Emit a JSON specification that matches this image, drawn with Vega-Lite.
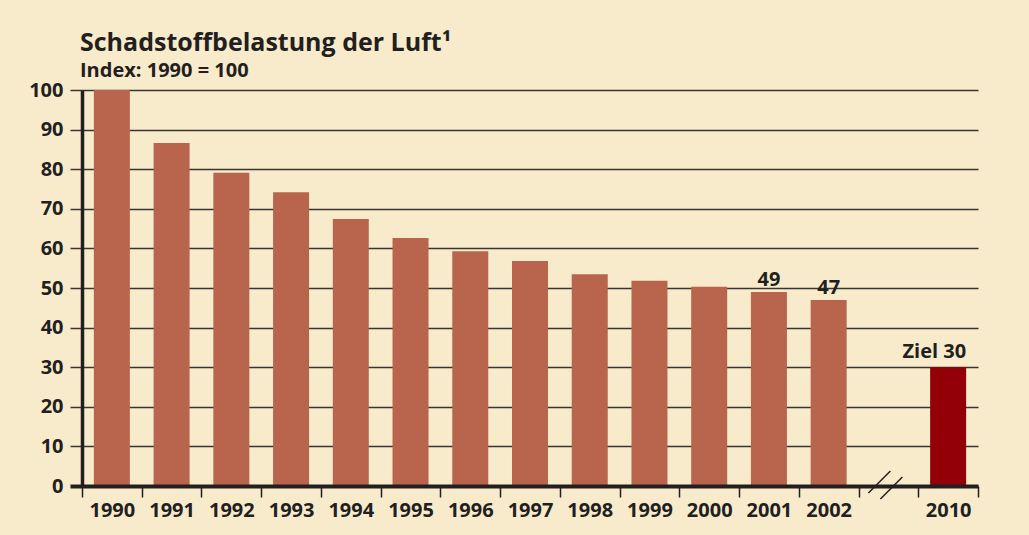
{
  "$schema": "https://vega.github.io/schema/vega-lite/v6.json",
  "width": 896,
  "height": 396,
  "autosize": {"type": "none"},
  "padding": {"left": 82, "top": 90, "right": 51, "bottom": 49},
  "background": "#f7ebcb",
  "config": {
    "view": {"stroke": null},
    "font": "Open Sans",
    "text": {"font": "Open Sans"}
  },
  "title": {
    "text": "Schadstoffbelastung der Luft¹",
    "subtitle": "Index: 1990 = 100",
    "anchor": "start",
    "frame": "group",
    "dx": -2,
    "offset": -1,
    "font": "Open Sans",
    "fontSize": 25,
    "fontWeight": "bold",
    "color": "#231f20",
    "subtitleFont": "Open Sans",
    "subtitleFontSize": 20,
    "subtitleFontWeight": "bold",
    "subtitleColor": "#231f20",
    "subtitlePadding": 5
  },
  "data": {
    "values": [
      {"year": "1990", "value": 100, "label": null},
      {"year": "1991", "value": 86.6, "label": null},
      {"year": "1992", "value": 79.1, "label": null},
      {"year": "1993", "value": 74.2, "label": null},
      {"year": "1994", "value": 67.4, "label": null},
      {"year": "1995", "value": 62.6, "label": null},
      {"year": "1996", "value": 59.3, "label": null},
      {"year": "1997", "value": 56.8, "label": null},
      {"year": "1998", "value": 53.5, "label": null},
      {"year": "1999", "value": 51.8, "label": null},
      {"year": "2000", "value": 50.3, "label": null},
      {"year": "2001", "value": 49, "label": "49"},
      {"year": "2002", "value": 47, "label": "47"},
      {"year": "2010", "value": 30, "label": "Ziel 30"}
    ]
  },
  "encoding": {
    "x": {
      "field": "year",
      "type": "nominal",
      "sort": null,
      "scale": {
        "domain": ["1990","1991","1992","1993","1994","1995","1996","1997","1998","1999","2000","2001","2002","gap","2010"],
        "paddingInner": 0,
        "paddingOuter": 0
      },
      "axis": {
        "title": null,
        "labelAngle": 0,
        "labelExpr": "datum.value == 'gap' ? '' : datum.value",
        "labelFont": "Open Sans",
        "labelFontSize": 20,
        "labelFontWeight": "bold",
        "labelColor": "#231f20",
        "labelPadding": 3,
        "tickBand": "extent",
        "tickSize": 11,
        "tickWidth": 1.5,
        "tickColor": "#231f20",
        "domainColor": "#231f20",
        "domainWidth": 4,
        "zindex": 1
      }
    },
    "y": {
      "field": "value",
      "type": "quantitative",
      "scale": {"domain": [0, 100], "nice": false},
      "axis": {
        "title": null,
        "values": [0,10,20,30,40,50,60,70,80,90,100],
        "labelFont": "Open Sans",
        "labelFontSize": 20,
        "labelFontWeight": "bold",
        "labelColor": "#231f20",
        "labelPadding": 7,
        "tickSize": 12,
        "tickWidth": {"condition": {"test": "datum.value === 0", "value": 4}, "value": 1.5},
        "tickColor": {"condition": {"test": "datum.value === 0", "value": "#231f20"}, "value": "#3a3530"},
        "grid": true,
        "gridColor": "#3a3530",
        "gridWidth": 1.5,
        "domainColor": "#231f20",
        "domainWidth": 3.5
      }
    }
  },
  "layer": [
    {
      "mark": {"type": "bar", "width": 36},
      "encoding": {
        "color": {
          "condition": {"test": "datum.year == '2010'", "value": "#940008"},
          "value": "#b9654d"
        }
      }
    },
    {
      "transform": [{"filter": "datum.label != null && datum.year != '2010'"}],
      "mark": {"type": "text", "font": "Open Sans", "fontSize": 20, "fontWeight": "bold", "color": "#231f20", "align": "center", "baseline": "alphabetic", "dy": -6},
      "encoding": {"text": {"field": "label"}}
    },
    {
      "transform": [{"filter": "datum.year == '2010'"}],
      "mark": {"type": "text", "font": "Open Sans", "fontSize": 20, "fontWeight": "bold", "color": "#231f20", "align": "right", "baseline": "alphabetic", "dx": 18, "dy": -9},
      "encoding": {"text": {"field": "label"}}
    },
    {
      "data": {"values": [{"year": "gap", "base": 0}]},
      "mark": {"type": "rule", "color": "#231f20", "strokeWidth": 1.5, "xOffset": -20, "yOffset": 7, "x2Offset": 2, "y2Offset": -15},
      "encoding": {"x2": {"field": "year"}, "y": {"field": "base", "type": "quantitative"}, "y2": {"field": "base"}}
    },
    {
      "data": {"values": [{"year": "gap", "base": 0}]},
      "mark": {"type": "rule", "color": "#231f20", "strokeWidth": 1.5, "xOffset": -8, "yOffset": 13, "x2Offset": 14, "y2Offset": -9},
      "encoding": {"x2": {"field": "year"}, "y": {"field": "base", "type": "quantitative"}, "y2": {"field": "base"}}
    }
  ]
}
